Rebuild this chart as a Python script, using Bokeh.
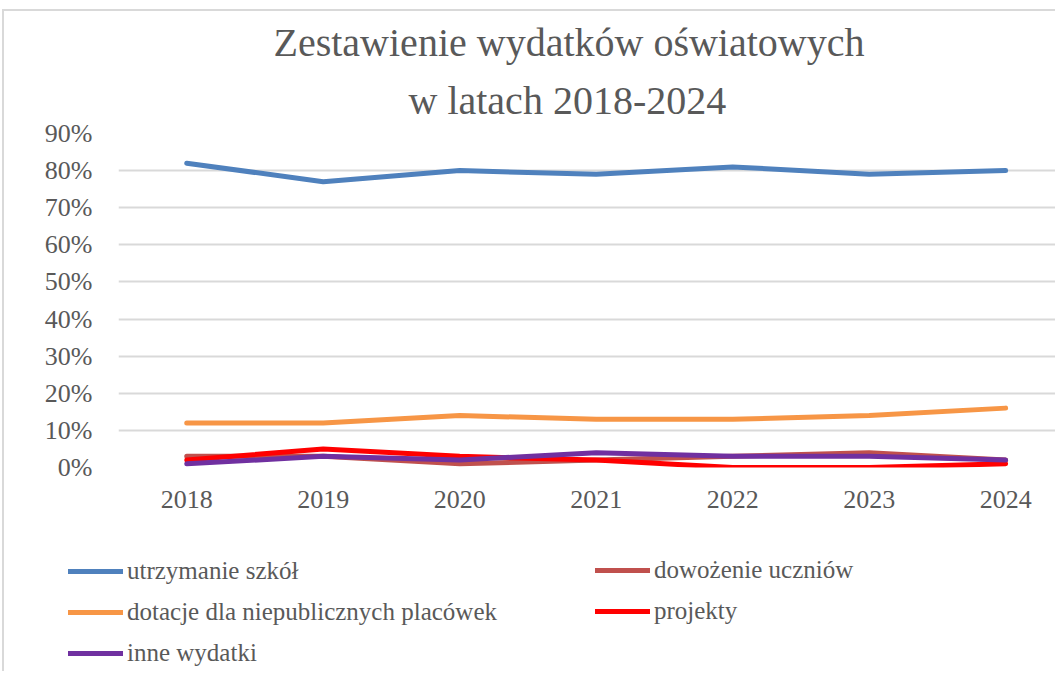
from bokeh.plotting import figure
from bokeh.models import Range1d, FixedTicker, PrintfTickFormatter, Legend, LegendItem, Title
from bokeh.embed import file_html
from bokeh.resources import INLINE

years = [2018, 2019, 2020, 2021, 2022, 2023, 2024]
utrzymanie = [82, 77, 80, 79, 81, 79, 80]
dowozenie = [3, 3, 1, 2, 3, 4, 2]
dotacje = [12, 12, 14, 13, 13, 14, 16]
projekty = [2, 5, 3, 2, 0, 0, 1]
inne = [1, 3, 2, 4, 3, 3, 2]
y_ticks = [0, 10, 20, 30, 40, 50, 60, 70, 80, 90]
title_lines = ["Zestawienie wydatków  oświatowych", "w latach 2018-2024"]
names = ["utrzymanie szkół", "dowożenie uczniów", "dotacje dla niepublicznych placówek",
         "projekty", "inne wydatki"]
colors = ["#4F81BD", "#C0504D", "#F79646", "#FF0000", "#7030A0"]
values = [utrzymanie, dowozenie, dotacje, projekty, inne]

FONT = "Liberation Serif"
GRAY = "#595959"
BORDER = "2px solid #d9d9d9"

# ---- main chart ----
p = figure(width=1053, height=529, output_backend="svg", toolbar_location=None,
           x_range=Range1d(2017.5, 2024.38), y_range=Range1d(0, 90),
           min_border_left=114, min_border_right=0, min_border_top=122,
           min_border_bottom=73, title=None)
p.outline_line_color = None
p.styles = {"border-left": BORDER, "border-top": BORDER,
            "margin-left": "2px", "margin-top": "9px"}

p.add_layout(Title(text=title_lines[1], align="left", offset=290, text_font=FONT,
                   text_font_size="40px", text_font_style="normal",
                   text_color=GRAY, standoff=22), "above")
p.add_layout(Title(text=title_lines[0], align="left", offset=155, text_font=FONT,
                   text_font_size="40px", text_font_style="normal",
                   text_color=GRAY, standoff=0), "above")

p.xgrid.grid_line_color = None
p.ygrid.grid_line_color = "#d9d9d9"
p.ygrid.grid_line_width = 2

p.xaxis.ticker = FixedTicker(ticks=years)
p.yaxis.ticker = FixedTicker(ticks=y_ticks)
p.yaxis.formatter = PrintfTickFormatter(format="%d%%")
for ax in (p.xaxis[0], p.yaxis[0]):
    ax.axis_line_color = None
    ax.major_tick_line_color = None
    ax.minor_tick_line_color = None
    ax.major_label_text_font = FONT
    ax.major_label_text_font_size = "26px"
    ax.major_label_text_color = GRAY
p.yaxis.major_label_standoff = 20
p.xaxis.major_label_standoff = 17

for name, vals, col in zip(names, values, colors):
    p.line(years, vals, line_color=col, line_width=5,
           line_cap="round", line_join="round")

# ---- legend strip: same series drawn off-view, only their legend is visible ----
p2 = figure(width=1053, height=133, output_backend="svg", toolbar_location=None,
            x_range=Range1d(0, 1), y_range=Range1d(0, 1),
            x_axis_location=None, y_axis_location=None,
            min_border=0, min_border_left=0, min_border_right=0,
            min_border_top=0, min_border_bottom=0, title=None)
p2.outline_line_color = None
p2.grid.visible = False
p2.styles = {"border-left": BORDER, "margin-left": "2px", "display": "block"}

proxy = {}
for name, vals, col in zip(names, values, colors):
    proxy[name] = p2.line(years, vals, line_color=col, line_width=5, line_cap="round")

def mk_legend(item_names, loc):
    return Legend(items=[LegendItem(label=n, renderers=[proxy[n]]) for n in item_names],
                  location=loc, orientation="vertical",
                  label_text_font=FONT, label_text_font_size="25px", label_text_color=GRAY,
                  glyph_width=55, glyph_height=20, label_height=20, label_standoff=4,
                  spacing=13, padding=0, margin=0,
                  border_line_color=None, background_fill_alpha=0)

p2.add_layout(mk_legend([names[0], names[2], names[4]], (64, 4)), "center")
p2.add_layout(mk_legend([names[1], names[3]], (591, 46)), "center")

open("out.html", "w").write(file_html([p, p2], INLINE))
